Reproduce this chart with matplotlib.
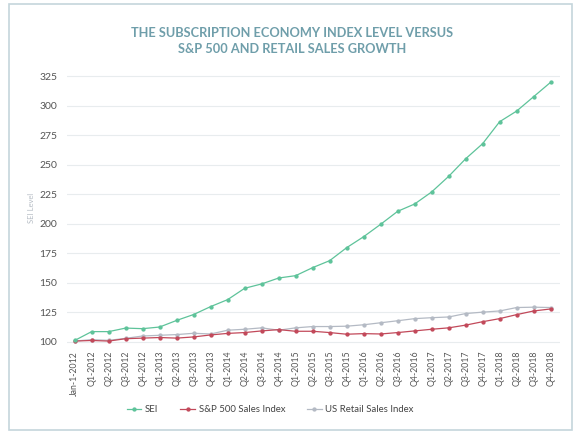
import matplotlib
matplotlib.use("Agg")
import matplotlib.pyplot as plt
from matplotlib.patches import Rectangle
from matplotlib.lines import Line2D

categories = ["Jan-1-2012"] + [f"Q{q}-{y}" for y in range(2012, 2019) for q in range(1, 5)]

sei = [101, 108.5, 108.5, 111.5, 111, 112.4, 118, 123, 129.7, 135.6, 145.2, 148.9, 153.9, 155.9,
       162.7, 168.6, 179.6, 188.9, 199.4, 210.4, 216.6, 226.8, 240, 254.9, 267.7, 286.3, 295.3,
       307.5, 319.7]
sp500 = [100.5, 101, 100.5, 102.5, 103, 103.5, 103, 104, 105.7, 107, 107.7, 109.1, 110.2, 108.8,
         108.8, 107.7, 106.3, 106.8, 106.5, 107.7, 109.1, 110.5, 111.7, 114, 116.9, 119.5, 122.9,
         126, 127.7]
retail = [100.5, 101.7, 101.1, 102.8, 104.8, 105.4, 106, 107.1, 106.5, 109.7, 110.5, 111.7, 109.7,
          111.7, 112.8, 112.8, 113.1, 114.3, 116, 117.7, 119.5, 120.3, 120.9, 123.8, 125, 126,
          128.9, 129.2, 128.9]
yticks = [100, 125, 150, 175, 200, 225, 250, 275, 300, 325]

series = [("SEI", sei, "#5ec39a"), ("S&P 500 Sales Index", sp500, "#c2495a"),
          ("US Retail Sales Index", retail, "#b4bac4")]

fig = plt.figure(figsize=(5.8, 4.37), dpi=100)
fig.patch.set_facecolor("white")

# outer frame
fig.add_artist(Rectangle((9/580, 1-430/437), (572-9)/580, (430-4)/437, transform=fig.transFigure,
                         fill=False, edgecolor="#c5d5dc", linewidth=1.2))

ax = fig.add_axes([67/580, 1-345.2/437, (560-67)/580, (345.2-70.1)/437])
x = list(range(len(categories)))
handles = []
for name, vals, col in [series[2], series[1], series[0]]:
    ax.plot(x, vals, color=col, linewidth=0.9, marker="o", markersize=2.1, zorder=3)
for name, vals, col in series:
    handles.append(Line2D([], [], color=col, linewidth=0.9, marker="o", markersize=2.1, label=name))

ax.set_xlim(-0.45, 28.55)
ax.set_ylim(97, 330)
ax.set_yticks(yticks)
ax.set_xticks(x)
ax.set_xticklabels(categories, rotation=90, fontsize=6.3, color="#555555", family="Lato")
ax.tick_params(axis="y", labelsize=7.5, labelcolor="#555555", length=0, pad=7)
ax.tick_params(axis="x", length=0, pad=4)
for lab in ax.get_yticklabels():
    lab.set_family("Lato")
ax.grid(axis="y", color="#e8ecee", linewidth=0.8)
ax.set_axisbelow(True)
for s in ax.spines.values():
    s.set_visible(False)
ax.set_ylabel("SEI Level", fontsize=5.5, color="#b5bcc4", family="Lato", labelpad=3)

fig.text(0.503, 1-33/437, "THE SUBSCRIPTION ECONOMY INDEX LEVEL VERSUS", ha="center", va="center",
         fontsize=9.2, fontweight="bold", color="#6f9eaa", family="Lato")
fig.text(0.503, 1-49/437, "S&P 500 AND RETAIL SALES GROWTH", ha="center", va="center",
         fontsize=9.2, fontweight="bold", color="#6f9eaa", family="Lato")

leg = fig.legend(handles=handles, loc="center", bbox_to_anchor=(0.466, 1-409.5/437), ncol=3,
                 frameon=False, handlelength=1.5, columnspacing=2.3,
                 handletextpad=0.4, prop={"family": "Lato", "size": 6.9})
for t in leg.get_texts():
    t.set_color("#444444")

fig.savefig("out.png", dpi=100)
